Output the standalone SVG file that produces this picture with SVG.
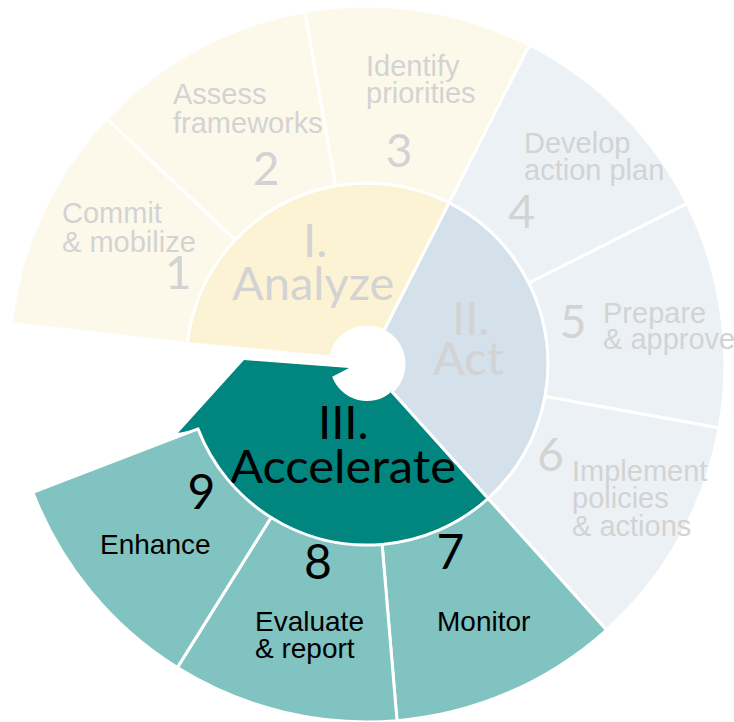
<svg xmlns="http://www.w3.org/2000/svg" width="734" height="722" viewBox="0 0 734 722">
<style>
.seg{stroke:#fff;stroke-width:3;stroke-linejoin:round}
.cream{fill:#FDF9EA}
.blue{fill:#ECF1F6}
.tealL{fill:#80C3C0}
.lab{font-family:"Liberation Sans",Arial,sans-serif;font-size:29px;fill:#D3D3D3}
.blab{font-family:"Liberation Sans",Arial,sans-serif;font-size:28px;fill:#000}
.num{font-family:Lato,"Open Sans",sans-serif;font-size:46px;fill:#D3D3D3;text-anchor:middle}
.bnum{font-family:Lato,"Open Sans",sans-serif;font-size:48px;fill:#000;text-anchor:middle}
.rom{font-family:Lato,"Open Sans",sans-serif;font-size:47px;fill:#D3D3D3}
.brom{font-family:Lato,"Open Sans",sans-serif;font-size:47px;fill:#000}
</style>
<rect width="734" height="722" fill="#fff"/>
<g id="phase-analyze">
<path class="seg" fill="#FBF3D3" d="M187.2,343.5 A181,181 0 0 1 449.2,202.7 L383.8,331 A37,37 0 0 0 330.7,356.9 Z"/>
<text class="rom"><tspan x="303" y="257">I.</tspan><tspan x="232" y="300">Analyze</tspan></text>
</g>
<g id="phase-act">
<path class="seg" fill="#D4E0EA" d="M449.2,202.7 A181,181 0 0 1 488.1,498.5 L391.8,391.5 A37,37 0 0 0 383.8,331 Z"/>
<text class="rom"><tspan x="452" y="335">II.</tspan><tspan x="433" y="375">Act</tspan></text>
</g>
<g id="phase-accelerate">
<path fill="#00857F" d="M488.1,498.5 A181,181 0 0 1 198,428.9 L178,433 L244,360 L349,368 L332.2,376.7 A37,37 0 0 0 391.8,391.5 Z"/>
<line x1="391.8" y1="391.5" x2="488.1" y2="498.5" stroke="#fff" stroke-width="3"/>
<text class="brom"><tspan x="318" y="439">III.</tspan><tspan x="230" y="483" textLength="226" lengthAdjust="spacingAndGlyphs">Accelerate</tspan></text>
</g>
<g id="step-1">
<path class="seg cream" d="M11.3,323.5 A358,358 0 0 1 106.5,118.5 L235.3,239.9 A181,181 0 0 0 187.2,343.5 Z"/>
<text class="lab"><tspan x="62" y="223">Commit</tspan><tspan x="62" y="252">&amp; mobilize</tspan></text>
<text class="num" x="178" y="289">1</text>
</g>
<g id="step-2">
<path class="seg cream" d="M106.5,118.5 A358,358 0 0 1 304.8,11.4 L335.6,185.8 A181,181 0 0 0 235.3,239.9 Z"/>
<text class="lab"><tspan x="173" y="104">Assess</tspan><tspan x="173" y="133">frameworks</tspan></text>
<text class="num" x="266" y="185">2</text>
</g>
<g id="step-3">
<path class="seg cream" d="M304.8,11.4 A358,358 0 0 1 529.5,45 L449.2,202.7 A181,181 0 0 0 335.6,185.8 Z"/>
<text class="lab"><tspan x="366" y="76">Identify</tspan><tspan x="366" y="103">priorities</tspan></text>
<text class="num" x="399" y="167">3</text>
</g>
<g id="step-4">
<path class="seg blue" d="M529.5,45 A358,358 0 0 1 687.1,203.7 L528.8,283 A181,181 0 0 0 449.2,202.7 Z"/>
<text class="lab"><tspan x="524" y="153">Develop</tspan><tspan x="524" y="180">action plan</tspan></text>
<text class="num" x="521.5" y="228">4</text>
</g>
<g id="step-5">
<path class="seg blue" d="M687.1,203.7 A358,358 0 0 1 719.2,428 L545.1,396.4 A181,181 0 0 0 528.8,283 Z"/>
<text class="num" x="573" y="338">5</text>
<text class="lab"><tspan x="603" y="323">Prepare</tspan><tspan x="603" y="349">&amp; approve</tspan></text>
</g>
<g id="step-6">
<path class="seg blue" d="M719.2,428 A358,358 0 0 1 606.5,630 L488.1,498.5 A181,181 0 0 0 545.1,396.4 Z"/>
<text class="num" x="550.5" y="471">6</text>
<text class="lab"><tspan x="572" y="481">Implement</tspan><tspan x="572" y="508">policies</tspan><tspan x="572" y="536">&amp; actions</tspan></text>
</g>
<g id="step-7">
<path class="seg tealL" d="M606.5,630 A358,358 0 0 1 397,720.7 L382.1,544.4 A181,181 0 0 0 488.1,498.5 Z"/>
<text class="bnum" x="450.5" y="569">7</text>
<text class="blab" x="437" y="631">Monitor</text>
</g>
<g id="step-8">
<path class="seg tealL" d="M397,720.7 A358,358 0 0 1 177.3,667.6 L271.1,517.5 A181,181 0 0 0 382.1,544.4 Z"/>
<text class="bnum" x="318" y="579">8</text>
<text class="blab"><tspan x="255" y="631">Evaluate</tspan><tspan x="255" y="658">&amp; report</tspan></text>
</g>
<g id="step-9">
<path class="seg tealL" d="M177.3,667.6 A358,358 0 0 1 32.8,492.3 L198,428.9 A181,181 0 0 0 271.1,517.5 Z"/>
<text class="bnum" x="201.5" y="509">9</text>
<text class="blab" x="100" y="554">Enhance</text>
</g>
<g id="connectors"/>
</svg>
